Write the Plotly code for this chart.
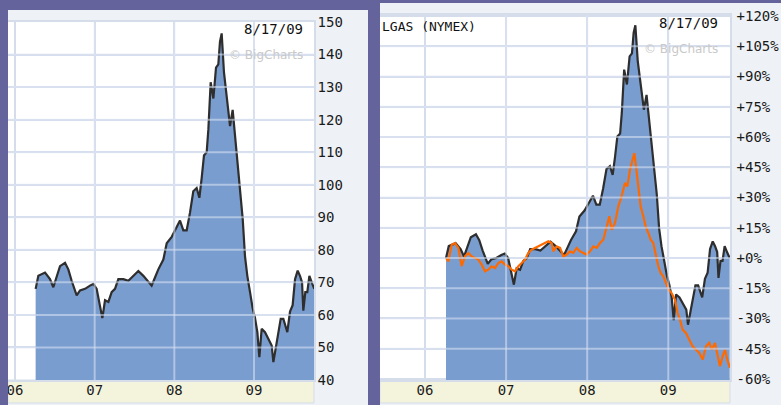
import plotly.graph_objects as go

# ---------------- data ----------------
price_years = [2006.259, 2006.293, 2006.377, 2006.439, 2006.481, 2006.523, 2006.565, 2006.628, 2006.669, 2006.711,
               2006.774, 2006.816, 2006.879, 2006.941, 2006.983, 2007.025, 2007.067, 2007.096, 2007.130, 2007.172,
               2007.213, 2007.255, 2007.297, 2007.360, 2007.423, 2007.485, 2007.548, 2007.611, 2007.674, 2007.715,
               2007.757, 2007.799, 2007.862, 2007.904, 2007.967, 2008.008, 2008.071, 2008.113, 2008.155, 2008.197,
               2008.238, 2008.280, 2008.314, 2008.343, 2008.372, 2008.406, 2008.427, 2008.456, 2008.490, 2008.523,
               2008.552, 2008.573, 2008.594, 2008.623, 2008.657, 2008.699, 2008.732, 2008.762, 2008.791, 2008.816,
               2008.833, 2008.858, 2008.887, 2008.916, 2008.950, 2008.983, 2009.013, 2009.042, 2009.067, 2009.096,
               2009.138, 2009.180, 2009.222, 2009.243, 2009.276, 2009.305, 2009.335, 2009.368, 2009.402, 2009.418,
               2009.452, 2009.485, 2009.515, 2009.548, 2009.577, 2009.603, 2009.619, 2009.644, 2009.669, 2009.695,
               2009.724, 2009.757]
price_values = [68, 72, 73, 71, 68.5, 72, 75, 76, 74, 70.5,
                66, 67.5, 68, 69, 69.5, 68, 63, 59, 64.5, 64,
                67, 68, 71, 71, 70.5, 72, 73.5, 72, 70, 69,
                71.5, 74, 77, 82, 84, 86, 89, 86, 86, 91.5,
                98, 99, 96, 102, 109, 110, 117, 131.5, 126.5, 136,
                137, 144, 146.5, 134.5, 127.5, 118, 123, 115, 109, 103,
                98, 89.5, 78, 72, 67, 62, 59, 54.7, 47, 55.7,
                54.7, 52.6, 50.6, 45.5, 50.5, 54.7, 58.8, 58.8, 55.7, 54.7,
                61, 63, 71, 73.6, 72, 70, 61.3, 67, 67, 72,
                70, 68]

gas_years = [2006.259, 2006.288, 2006.329, 2006.370, 2006.411, 2006.452, 2006.493, 2006.534, 2006.575, 2006.617,
             2006.658, 2006.699, 2006.740, 2006.781, 2006.822, 2006.863, 2006.904, 2006.945, 2006.986, 2007.028,
             2007.069, 2007.110, 2007.151, 2007.192, 2007.233, 2007.274, 2007.315, 2007.356, 2007.397, 2007.439,
             2007.480, 2007.521, 2007.562, 2007.582, 2007.623, 2007.665, 2007.706, 2007.747, 2007.788, 2007.829,
             2007.870, 2007.911, 2007.952, 2007.993, 2008.035, 2008.076, 2008.117, 2008.158, 2008.199, 2008.240,
             2008.273, 2008.302, 2008.343, 2008.384, 2008.425, 2008.466, 2008.495, 2008.528, 2008.561, 2008.581,
             2008.602, 2008.630, 2008.659, 2008.692, 2008.721, 2008.754, 2008.783, 2008.815, 2008.848, 2008.877,
             2008.906, 2008.939, 2008.972, 2009.004, 2009.041, 2009.083, 2009.115, 2009.144, 2009.177, 2009.218,
             2009.259, 2009.300, 2009.342, 2009.383, 2009.424, 2009.465, 2009.506, 2009.535, 2009.576, 2009.605,
             2009.637, 2009.670, 2009.699, 2009.728, 2009.761]
gas_pct = [0, -1.7, 6.6, 7.4, 5, -4, 0.8, 2.5, 0.8, 0,
           -0.8, -3.3, -6.6, -5.8, -4.1, -5, -2.5, -1.7, -3.3, -4.1,
           -5.8, -6.6, -4.1, -2.5, -0.8, 2.5, 4.1, 5, 5.8, 6.6,
           7.4, 8.3, 7.4, 3.3, 5.8, 5, 0.8, 1.7, 3.3, 2.5,
           5, 3.3, 2.5, 1.7, 3.3, 5.8, 5, 7.4, 9.1, 15.7,
           20.7, 14, 17.4, 25.6, 30.6, 37.2, 35.5, 43.8, 49.6, 52,
           45.5, 33.9, 25.6, 20.7, 15.7, 12.4, 9.1, 7.4, 0.8, -4.1,
           -7.4, -9.1, -12.4, -15.7, -17.4, -20.7, -27.3, -30.6, -35.5, -37.2,
           -40.5, -43.8, -45.5, -47.1, -50.4, -43.8, -42.1, -45.5, -42.1, -47.1,
           -53.7, -48.8, -45.5, -50.4, -54.5]

year_ticks = [2006, 2007, 2008, 2009]
year_labels = ["06", "07", "08", "09"]
price_ticks = [40, 50, 60, 70, 80, 90, 100, 110, 120, 130, 140, 150]
pct_ticks = [-60, -45, -30, -15, 0, 15, 30, 45, 60, 75, 90, 105, 120]
pct_labels = [("+" if v >= 0 else "-") + str(abs(v)) + "%" for v in pct_ticks]

# ---------------- styling ----------------
W, H = 781, 405
PURPLE = "#65639b"
PANEL = "#eef2f7"
GRID = "#d5dcea"
BEIGE = "#f4f4dc"
FILL = "#7a9dd0"
LINE = "#2e2e2e"
ORANGE = "#ff6a00"
MONO = "DejaVu Sans Mono"


def fx(p):
    return p / W


def fy(p):
    return 1 - p / H


pct_base = pct_ticks[0] - 0.5
price_pct = [(v / price_values[0] - 1) * 100 for v in price_values]

fig = go.Figure()
# left panel
fig.add_trace(go.Scatter(x=price_years, y=price_values, mode="lines", fill="tozeroy",
                         fillcolor=FILL, line=dict(color=LINE, width=2.2),
                         xaxis="x", yaxis="y", hoverinfo="skip"))
# right panel
fig.add_trace(go.Scatter(x=price_years, y=[pct_base] * len(price_years), mode="lines",
                         line=dict(width=0, color=FILL), xaxis="x2", yaxis="y2", hoverinfo="skip"))
fig.add_trace(go.Scatter(x=price_years, y=price_pct, mode="lines", fill="tonexty",
                         fillcolor=FILL, line=dict(color=LINE, width=2.2),
                         xaxis="x2", yaxis="y2", hoverinfo="skip"))
fig.add_trace(go.Scatter(x=gas_years, y=gas_pct, mode="lines",
                         line=dict(color=ORANGE, width=2.2),
                         xaxis="x2", yaxis="y2", hoverinfo="skip"))

shapes = [
    # purple frame areas (paper background is the light panel colour)
    dict(type="rect", xref="paper", yref="paper", x0=fx(0), x1=fx(368), y0=fy(10), y1=1,
         fillcolor=PURPLE, line=dict(width=0), layer="below"),
    dict(type="rect", xref="paper", yref="paper", x0=fx(368), x1=1, y0=fy(3), y1=1,
         fillcolor=PURPLE, line=dict(width=0), layer="below"),
    # beige date strips
    dict(type="rect", xref="paper", yref="paper", x0=fx(8), x1=fx(314), y0=fy(403), y1=fy(380),
         fillcolor=BEIGE, line=dict(color=GRID, width=1), layer="below"),
    dict(type="rect", xref="paper", yref="paper", x0=fx(380), x1=fx(730), y0=fy(403), y1=fy(380),
         fillcolor=BEIGE, line=dict(color=GRID, width=1), layer="below"),
]
# gridlines drawn again, translucent, over the filled area
OVER = "rgba(220,228,242,0.55)"
for v in price_ticks[1:-1]:
    shapes.append(dict(type="line", xref="x domain", yref="y", x0=0, x1=1, y0=v, y1=v,
                       line=dict(color=OVER, width=2), layer="above"))
for v in pct_ticks[1:-1]:
    shapes.append(dict(type="line", xref="x2 domain", yref="y2", x0=0, x1=1, y0=v, y1=v,
                       line=dict(color=OVER, width=2), layer="above"))
for v in year_ticks[1:]:
    shapes.append(dict(type="line", xref="x", yref="y domain", x0=v, x1=v, y0=0, y1=1,
                       line=dict(color=OVER, width=2), layer="above"))
    shapes.append(dict(type="line", xref="x2", yref="y2 domain", x0=v, x1=v, y0=0, y1=1,
                       line=dict(color=OVER, width=2), layer="above"))
# purple side strips (also clip overflow of the left panel edge)
shapes.append(dict(type="rect", xref="paper", yref="paper", x0=0, x1=fx(8), y0=0, y1=1,
                   fillcolor=PURPLE, line=dict(width=0), layer="above"))
shapes.append(dict(type="rect", xref="paper", yref="paper", x0=fx(368), x1=fx(380), y0=0, y1=1,
                   fillcolor=PURPLE, line=dict(width=0), layer="above"))

axis_common = dict(showgrid=True, gridcolor=GRID, gridwidth=2, zeroline=False,
                   showline=True, linecolor=GRID, linewidth=1.5, mirror=True, automargin=False,
                   ticks="", tickfont=dict(family=MONO, size=14, color="#1a1a1a"))

fig.update_layout(
    width=W, height=H,
    margin=dict(l=0, r=0, t=0, b=0, pad=0, autoexpand=False),
    paper_bgcolor=PANEL, plot_bgcolor="white",
    showlegend=False,
    shapes=shapes,
    xaxis=dict(domain=[fx(8), fx(314)], range=[2005.912, 2009.753], anchor="y",
               tickmode="array", tickvals=year_ticks, ticktext=year_labels,
               ticklabelstandoff=-4, **axis_common),
    yaxis=dict(domain=[fy(380), fy(22)], range=[40, 150], anchor="x", side="right",
               tickmode="array", tickvals=price_ticks, ticklabelstandoff=-1, **axis_common),
    xaxis2=dict(domain=[fx(380), fx(730)], range=[2005.445, 2009.761], anchor="y2",
                tickmode="array", tickvals=year_ticks, ticktext=year_labels,
                ticklabelstandoff=-4, **axis_common),
    yaxis2=dict(domain=[fy(380), fy(15)], range=[pct_base, 120.5], anchor="x2", side="right",
                tickmode="array", tickvals=pct_ticks, ticktext=pct_labels, ticklabelstandoff=2,
                **axis_common),
    annotations=[
        dict(text="8/17/09", xref="paper", yref="paper", x=fx(305), y=fy(29), xanchor="right",
             yanchor="middle", showarrow=False, font=dict(family=MONO, size=14, color="#111")),
        dict(text="8/17/09", xref="paper", yref="paper", x=fx(720), y=fy(23), xanchor="right",
             yanchor="middle", showarrow=False, font=dict(family=MONO, size=14, color="#111")),
        dict(text="© BigCharts", xref="paper", yref="paper", x=fx(305), y=fy(55), xanchor="right",
             yanchor="middle", showarrow=False, font=dict(family="DejaVu Sans", size=12, color="#c9c9c9")),
        dict(text="© BigCharts", xref="paper", yref="paper", x=fx(720), y=fy(49), xanchor="right",
             yanchor="middle", showarrow=False, font=dict(family="DejaVu Sans", size=12, color="#c9c9c9")),
        dict(text="LGAS (NYMEX)", xref="paper", yref="paper", x=fx(380), y=fy(27), xanchor="left",
             yanchor="middle", showarrow=False, font=dict(family=MONO, size=13, color="#111")),
    ],
)

fig.write_html("out.html")
